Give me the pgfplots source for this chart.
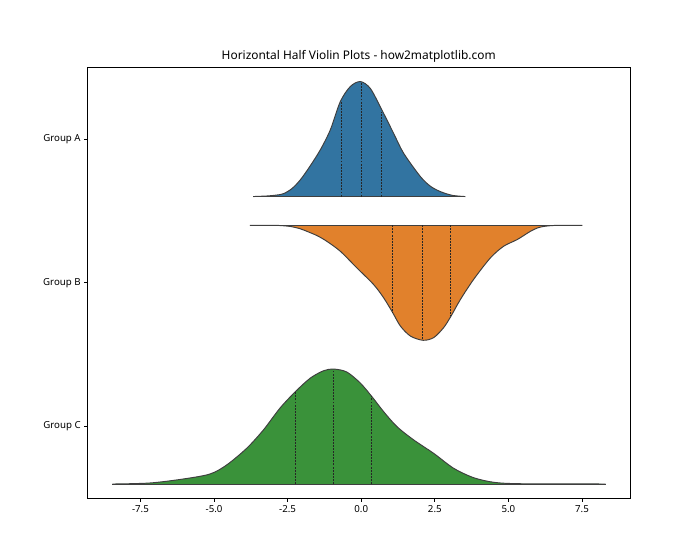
\documentclass[border=0pt]{standalone}
\usepackage{fontspec}
\setmainfont{Noto Sans}
\usepackage{pgfplots}
\usepackage{pgfplotstable}
\pgfplotsset{compat=1.18}

\definecolor{cA}{RGB}{50,116,161}
\definecolor{cB}{RGB}{225,129,44}
\definecolor{cC}{RGB}{58,146,58}
\definecolor{edge}{RGB}{63,63,63}

% density profiles, d = height relative to the violin's peak
\pgfplotstableread{
x d
-3.66 0
-3.20 0.005
-2.90 0.012
-2.64 0.025
-2.35 0.07
-2.07 0.145
-1.75 0.26
-1.39 0.406
-1.05 0.58
-0.71 0.826
-0.37 0.957
-0.03 1.0
0.31 0.94
0.70 0.754
1.10 0.55
1.44 0.377
2.01 0.174
2.35 0.09
2.69 0.043
3.10 0.01
3.54 0
}\tA

\pgfplotstableread{
x d
-3.78 0
-3.00 0
-2.70 0.003
-2.41 0.01
-2.10 0.028
-1.85 0.052
-1.50 0.09
-1.17 0.139
-0.71 0.226
-0.15 0.37
0.42 0.515
0.76 0.63
1.07 0.76
1.33 0.876
1.67 0.963
2.10 1.0
2.46 0.977
2.80 0.89
3.05 0.79
3.37 0.645
3.82 0.47
4.39 0.283
4.84 0.182
5.30 0.124
5.75 0.052
6.00 0.022
6.20 0.01
6.45 0.003
6.77 0
7.51 0
}\tB

\pgfplotstableread{
x d
-8.45 0
-7.18 0.009
-6.04 0.044
-5.14 0.087
-4.57 0.166
-3.89 0.311
-3.32 0.471
-2.76 0.66
-2.23 0.805
-1.73 0.921
-1.28 0.985
-0.94 1.0
-0.49 0.974
-0.03 0.878
0.36 0.761
0.76 0.63
1.21 0.5
1.78 0.384
2.46 0.267
3.14 0.137
3.82 0.055
4.50 0.015
5.30 0.003
7.00 0.002
8.30 0
}\tC

\begin{document}
\begin{tikzpicture}
\begin{axis}[
  scale only axis,
  width=560.1pt, height=445.2pt,
  xmin=-9.30, xmax=9.13,
  ymin=-0.5, ymax=2.5,
  y dir=reverse,
  axis line style={line width=0.8pt},
  tick style={line width=0.8pt, black},
  tick align=outside,
  major tick length=3.5pt,
  xtick pos=bottom, ytick pos=left,
  xtick={-7.5,-5,-2.5,0,2.5,5,7.5},
  xticklabels={-7.5,-5.0,-2.5,0.0,2.5,5.0,7.5},
  ytick={0,1,2},
  yticklabels={Group A,Group B,Group C},
  ticklabel style={font=\fontsize{10}{12}\selectfont},
  title={Horizontal Half Violin Plots - how2matplotlib.com},
  title style={font=\fontsize{12.3}{14}\selectfont, yshift=-5pt},
  every axis plot/.append style={line join=round},
  violin/.style={draw=edge, line width=1pt, smooth, tension=0.5},
  quart/.style={draw=edge!60!black, line width=0.8pt, dash pattern=on 2pt off 1.2pt},
]
% Group A, grows upward from 0.4
\addplot[violin, fill=cA] table[x=x, y expr=0.4-0.8*\thisrow{d}] {\tA};
\addplot[draw=edge, line width=1pt] coordinates {(-3.66,0.4) (3.54,0.4)};
\addplot[quart] coordinates {(-0.67,0.4) (-0.67,-0.26)};
\addplot[quart] coordinates {(0.0,0.4) (0.0,-0.395)};
\addplot[quart] coordinates {(0.68,0.4) (0.68,-0.19)};
% Group B, grows downward from 0.6
\addplot[violin, fill=cB] table[x=x, y expr=0.6+0.8*\thisrow{d}] {\tB};
\addplot[draw=edge, line width=1pt] coordinates {(-3.78,0.6) (7.51,0.6)};
\addplot[quart] coordinates {(1.07,0.6) (1.07,1.208)};
\addplot[quart] coordinates {(2.08,0.6) (2.08,1.395)};
\addplot[quart] coordinates {(3.04,0.6) (3.04,1.232)};
% Group C, grows upward from 2.4
\addplot[violin, fill=cC] table[x=x, y expr=2.4-0.8*\thisrow{d}] {\tC};
\addplot[draw=edge, line width=1pt] coordinates {(-8.45,2.4) (8.30,2.4)};
\addplot[quart] coordinates {(-2.23,2.4) (-2.23,1.756)};
\addplot[quart] coordinates {(-0.94,2.4) (-0.94,1.605)};
\addplot[quart] coordinates {(0.36,2.4) (0.36,1.79)};
\end{axis}
\path[use as bounding box] (-90.3pt,-63.6pt) rectangle (632.4pt,514.56pt);
\end{tikzpicture}
\end{document}
